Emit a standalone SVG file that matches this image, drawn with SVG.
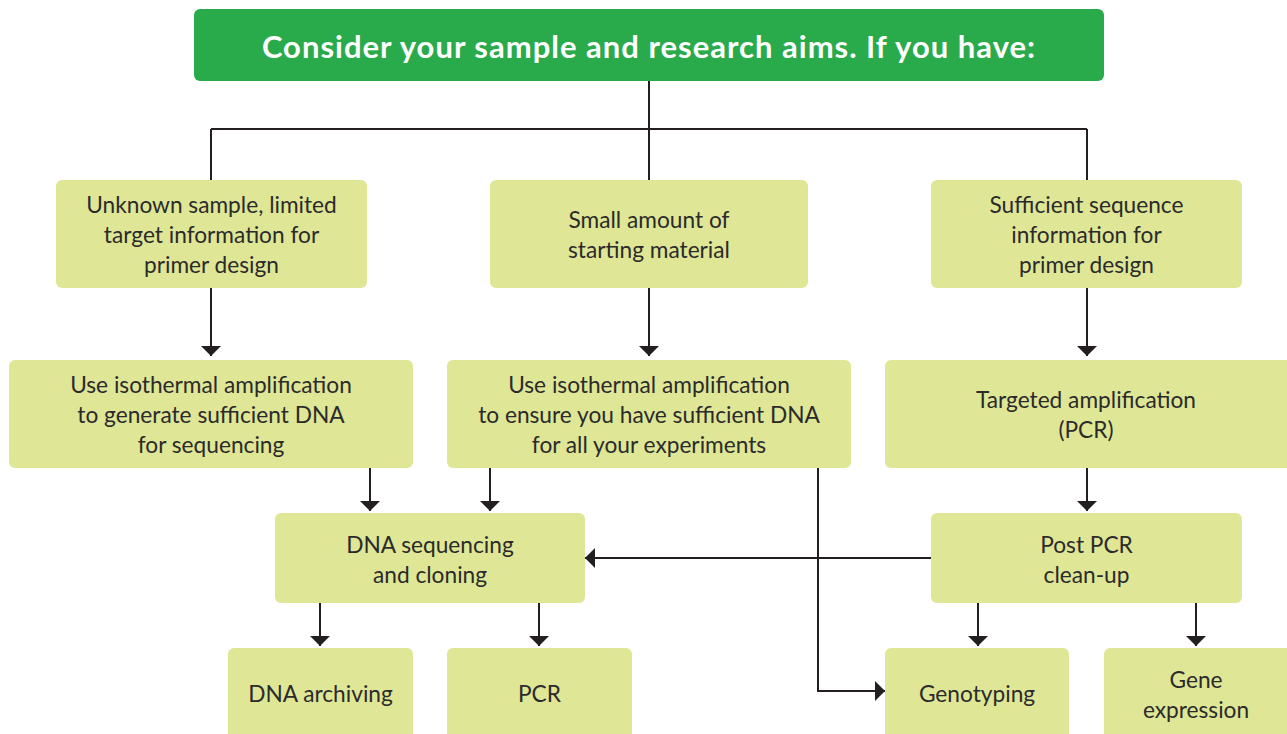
<svg xmlns="http://www.w3.org/2000/svg" width="1287" height="734" viewBox="0 0 1287 734">
<style>
.box{fill:#dfe696;}
.hdr{fill:#29ab4b;}
.t{font-family:"Lato","Liberation Sans",sans-serif;font-size:22.7px;fill:#2b2b2b;text-anchor:middle;dominant-baseline:central;}
.ht{font-family:"Lato","Liberation Sans",sans-serif;font-size:31px;letter-spacing:1px;font-weight:bold;fill:#ffffff;text-anchor:middle;dominant-baseline:central;}
.c{fill:none;stroke:#231f20;stroke-width:2;}
</style>
<defs>
<marker id="ah" viewBox="0 0 10 20" refX="10" refY="10" markerWidth="10" markerHeight="20" markerUnits="userSpaceOnUse" orient="auto">
<path d="M0,0 L10,10 L0,20 z" fill="#231f20"/>
</marker>
</defs>
<rect width="1287" height="734" fill="#ffffff"/>
<g id="connectors">
<path class="c" d="M649,81 V129 M211,129 H1087 M211,129 V180 M649,129 V180 M1087,129 V180"/>
<path class="c" d="M211,288 V356" marker-end="url(#ah)"/>
<path class="c" d="M649,288 V356" marker-end="url(#ah)"/>
<path class="c" d="M1087,288 V356" marker-end="url(#ah)"/>
<path class="c" d="M370,468 V511" marker-end="url(#ah)"/>
<path class="c" d="M490,468 V511" marker-end="url(#ah)"/>
<path class="c" d="M1087,468 V511" marker-end="url(#ah)"/>
<path class="c" d="M931,558 H585" marker-end="url(#ah)"/>
<path class="c" d="M818,468 V691 H885" marker-end="url(#ah)"/>
<path class="c" d="M320,603 V646" marker-end="url(#ah)"/>
<path class="c" d="M539,603 V646" marker-end="url(#ah)"/>
<path class="c" d="M978,603 V646" marker-end="url(#ah)"/>
<path class="c" d="M1196,603 V646" marker-end="url(#ah)"/>
</g>
<g id="header">
<rect class="hdr" x="194" y="9" width="910" height="72" rx="6"/>
<text class="ht" x="649" y="46">Consider your sample and research aims. If you have:</text>
</g>
<g id="unknown-sample">
<rect class="box" x="56" y="180" width="311" height="108" rx="6"/>
<text class="t" x="211.5" y="204">Unknown sample, limited</text>
<text class="t" x="211.5" y="234">target information for</text>
<text class="t" x="211.5" y="264">primer design</text>
</g>
<g id="small-amount">
<rect class="box" x="490" y="180" width="318" height="108" rx="6"/>
<text class="t" x="649" y="219">Small amount of</text>
<text class="t" x="649" y="249">starting material</text>
</g>
<g id="sufficient-sequence">
<rect class="box" x="931" y="180" width="311" height="108" rx="6"/>
<text class="t" x="1086.5" y="204">Sufficient sequence</text>
<text class="t" x="1086.5" y="234">information for</text>
<text class="t" x="1086.5" y="264">primer design</text>
</g>
<g id="iso-sequencing">
<rect class="box" x="9" y="360" width="404" height="108" rx="6"/>
<text class="t" x="211" y="384">Use isothermal amplification</text>
<text class="t" x="211" y="414">to generate sufficient DNA</text>
<text class="t" x="211" y="444">for sequencing</text>
</g>
<g id="iso-experiments">
<rect class="box" x="447" y="360" width="404" height="108" rx="6"/>
<text class="t" x="649" y="384">Use isothermal amplification</text>
<text class="t" x="649" y="414">to ensure you have sufficient DNA</text>
<text class="t" x="649" y="444">for all your experiments</text>
</g>
<g id="targeted">
<rect class="box" x="885" y="360" width="408" height="108" rx="6"/>
<text class="t" x="1086" y="399">Targeted amplification</text>
<text class="t" x="1086" y="429">(PCR)</text>
</g>
<g id="dna-seq">
<rect class="box" x="275" y="513" width="310" height="90" rx="6"/>
<text class="t" x="430" y="544">DNA sequencing</text>
<text class="t" x="430" y="574">and cloning</text>
</g>
<g id="post-pcr">
<rect class="box" x="931" y="513" width="311" height="90" rx="6"/>
<text class="t" x="1086.5" y="544">Post PCR</text>
<text class="t" x="1086.5" y="574">clean-up</text>
</g>
<g id="dna-archiving">
<rect class="box" x="228" y="648" width="185" height="100" rx="6"/>
<text class="t" x="320.5" y="693">DNA archiving</text>
</g>
<g id="pcr">
<rect class="box" x="447" y="648" width="185" height="100" rx="6"/>
<text class="t" x="539.5" y="693">PCR</text>
</g>
<g id="genotyping">
<rect class="box" x="885" y="648" width="184" height="100" rx="6"/>
<text class="t" x="977" y="693">Genotyping</text>
</g>
<g id="gene-expression">
<rect class="box" x="1104" y="648" width="190" height="100" rx="6"/>
<text class="t" x="1196" y="679">Gene</text>
<text class="t" x="1196" y="709">expression</text>
</g>
</svg>
